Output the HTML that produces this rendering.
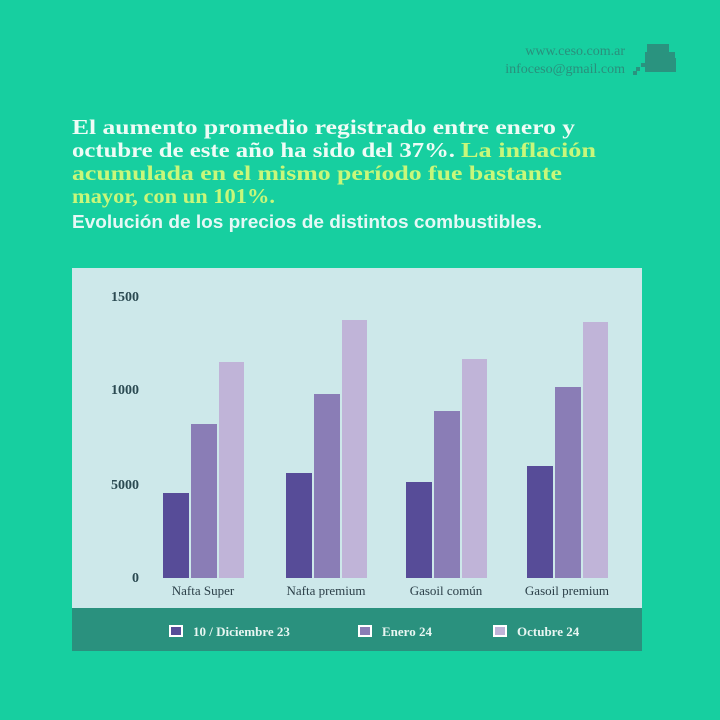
<!DOCTYPE html>
<html><head><meta charset="utf-8"><style>html,body{margin:0;padding:0;background:#17cfa0}svg{display:block}</style></head>
<body>
<svg width="720" height="720" viewBox="0 0 720 720" xmlns="http://www.w3.org/2000/svg">
<rect width="720" height="720" fill="#17cfa0"/>
<g font-family="Liberation Serif, serif" fill="#2a8f7c" font-size="14" text-anchor="end">
<text x="625" y="55">www.ceso.com.ar</text>
<text x="625" y="73">infoceso@gmail.com</text>
</g>
<g fill="#2a937f">
<rect x="647" y="44" width="22" height="16"/><rect x="645" y="52" width="30" height="20"/><rect x="660" y="58" width="16" height="14"/>
<rect x="636" y="67" width="4" height="4"/><rect x="641" y="63" width="4" height="4"/><rect x="633" y="71" width="4" height="4"/>
</g>
<g font-family="Liberation Serif, serif" font-weight="bold" font-size="21">
<text x="72" y="134" fill="#eefcf6" textLength="503" lengthAdjust="spacingAndGlyphs">El aumento promedio registrado entre enero y</text>
<text x="72" y="157" fill="#eefcf6" textLength="383" lengthAdjust="spacingAndGlyphs">octubre de este año ha sido del 37%.</text>
<text x="461" y="157" fill="#c8f77a" textLength="135" lengthAdjust="spacingAndGlyphs">La inflación</text>
<text x="72" y="180" fill="#c8f77a" textLength="490" lengthAdjust="spacingAndGlyphs">acumulada en el mismo período fue bastante</text>
<text x="72" y="203" fill="#c8f77a" textLength="203" lengthAdjust="spacingAndGlyphs">mayor, con un 101%.</text>
</g>
<text x="72" y="228" font-family="Liberation Sans, sans-serif" font-weight="bold" font-size="18" fill="#e6f8f6" textLength="470" lengthAdjust="spacingAndGlyphs">Evolución de los precios de distintos combustibles.</text>
<rect x="72" y="268" width="570" height="340" fill="#cde8ea"/>
<rect x="72" y="608" width="570" height="43" fill="#2a917e"/>
<g font-family="Liberation Serif, serif" font-weight="bold" font-size="14" fill="#2b4a52" text-anchor="end">
<text x="139" y="301">1500</text><text x="139" y="394">1000</text><text x="139" y="489">5000</text><text x="139" y="582">0</text>
</g>
<g>
<rect x="163" y="493" width="26" height="85" fill="#574c98"/><rect x="191" y="424" width="26" height="154" fill="#8a7db6"/><rect x="219" y="362" width="25" height="216" fill="#c0b4d8"/>
<rect x="286" y="473" width="26" height="105" fill="#574c98"/><rect x="314" y="394" width="26" height="184" fill="#8a7db6"/><rect x="342" y="320" width="25" height="258" fill="#c0b4d8"/>
<rect x="406" y="482" width="26" height="96" fill="#574c98"/><rect x="434" y="411" width="26" height="167" fill="#8a7db6"/><rect x="462" y="359" width="25" height="219" fill="#c0b4d8"/>
<rect x="527" y="466" width="26" height="112" fill="#574c98"/><rect x="555" y="387" width="26" height="191" fill="#8a7db6"/><rect x="583" y="322" width="25" height="256" fill="#c0b4d8"/>
</g>
<g font-family="Liberation Serif, serif" font-size="13" fill="#2b3f48" text-anchor="middle">
<text x="203" y="595">Nafta Super</text><text x="326" y="595">Nafta premium</text><text x="446" y="595">Gasoil común</text><text x="567" y="595">Gasoil premium</text>
</g>
<g stroke="#ffffff" stroke-width="2">
<rect x="170" y="626" width="12" height="10" fill="#574c98"/>
<rect x="359" y="626" width="12" height="10" fill="#8a7db6"/>
<rect x="494" y="626" width="12" height="10" fill="#c0b4d8"/>
</g>
<g font-family="Liberation Serif, serif" font-weight="bold" font-size="13" fill="#e8f6f2">
<text x="193" y="636">10 / Diciembre 23</text><text x="382" y="636">Enero 24</text><text x="517" y="636">Octubre 24</text>
</g>
</svg>
</body></html>
